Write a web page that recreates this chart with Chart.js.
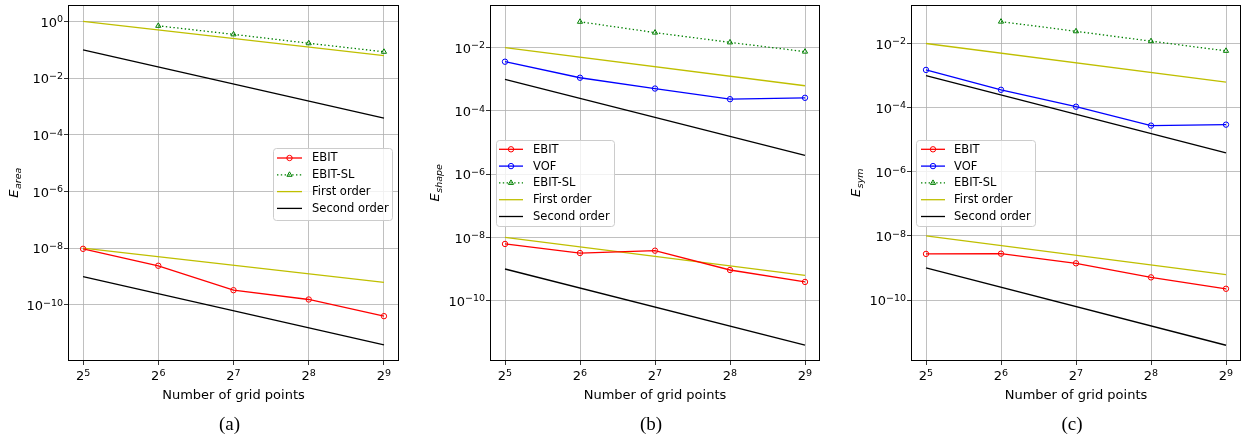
<!DOCTYPE html>
<html><head><meta charset="utf-8">
<script src="https://cdn.jsdelivr.net/npm/chart.js@4.4.1/dist/chart.umd.min.js"></script>
<style>
html,body{margin:0;padding:0;background:#fff;}
body{width:1257px;height:440px;overflow:hidden;position:relative;}
canvas{position:absolute;top:0;}
</style>
</head><body>
<canvas id="ca" width="420" height="440" style="left:0px;width:420px;height:440px"></canvas>
<canvas id="cb" width="418" height="440" style="left:420px;width:418px;height:440px"></canvas>
<canvas id="cc" width="419" height="440" style="left:838px;width:419px;height:440px"></canvas>
<script>
// ---------------- data ----------------
const gridPoints = [32, 64, 128, 256, 512];
const slGridPoints = [64, 128, 256, 512];
const refGridPoints = [32, 512];
const xTickBase = '2';
const xTickExponents = ['5', '6', '7', '8', '9'];

const yTickBase = '10';
const yTickValuesA = [1, 1e-2, 1e-4, 1e-6, 1e-8, 1e-10];
const yTickExponentsA = ['0', '−2', '−4', '−6', '−8', '−10'];
const yTickValuesBC = [1e-2, 1e-4, 1e-6, 1e-8, 1e-10];
const yTickExponentsBC = ['−2', '−4', '−6', '−8', '−10'];

// (a) E_area
const areaEBIT = [9.5e-9, 2.4e-9, 3.3e-10, 1.55e-10, 4.0e-11];
const areaEBITSL = [0.70, 0.35, 0.17, 0.085];
// (b) E_shape
const shapeEBIT = [6.2e-9, 3.2e-9, 3.8e-9, 9.3e-10, 3.9e-10];
const shapeVOF = [3.6e-3, 1.12e-3, 5.1e-4, 2.35e-4, 2.6e-4];
const shapeEBITSL = [0.066, 0.030, 0.0147, 0.0075];
// (c) E_sym
const symEBIT = [2.75e-9, 2.8e-9, 1.4e-9, 5.1e-10, 2.25e-10];
const symVOF = [1.5e-3, 3.6e-4, 1.07e-4, 2.75e-5, 2.95e-5];
const symEBITSL = [0.048, 0.024, 0.0118, 0.0059];

// reference slope lines (end points)
const firstOrderUpperA = [1, 0.0625];
const secondOrderUpperA = [0.1, 3.9e-4];
const firstOrderUpperBC = [1e-2, 6.25e-4];
const secondOrderUpperBC = [1e-3, 3.9e-6];
const firstOrderLower = [1e-8, 6.25e-10];
const secondOrderLower = [1e-9, 3.9e-12];

// ---------------- helpers ----------------
const pts = (xs, ys) => xs.map((x, i) => ({x: x, y: ys[i]}));
const FONT = '"DejaVu Sans", sans-serif';

function ebitDs(vals) {
  return {label: 'EBIT', data: pts(gridPoints, vals), borderColor: '#ff0000', borderWidth: 1.3,
    pointStyle: 'circle', pointRadius: 2.7, pointBorderWidth: 1, pointBorderColor: '#ff0000',
    pointBackgroundColor: 'rgba(0,0,0,0)', tension: 0};
}
function vofDs(vals) {
  return {label: 'VOF', data: pts(gridPoints, vals), borderColor: '#0000ff', borderWidth: 1.3,
    pointStyle: 'circle', pointRadius: 2.7, pointBorderWidth: 1, pointBorderColor: '#0000ff',
    pointBackgroundColor: 'rgba(0,0,0,0)', tension: 0};
}
function slDs(vals) {
  return {label: 'EBIT-SL', data: pts(slGridPoints, vals), borderColor: '#008000', borderWidth: 1.3,
    borderDash: [1.4, 2.4], pointStyle: 'triangle', pointRadius: 3, pointBorderWidth: 1,
    pointBorderColor: '#008000', pointBackgroundColor: 'rgba(0,0,0,0)', tension: 0};
}
function refDs(label, vals, color, noLegend) {
  return {label: label, noLegend: !!noLegend, data: pts(refGridPoints, vals), borderColor: color,
    borderWidth: 1.3, pointRadius: 0, tension: 0};
}

const framePlugin = {
  id: 'frame',
  afterDatasetsDraw(chart) {
    const {ctx, chartArea: a} = chart;
    ctx.save();
    ctx.strokeStyle = '#000';
    ctx.lineWidth = 1;
    const l = Math.round(a.left) + 0.5, r = Math.round(a.right) - 0.5;
    const t = Math.round(a.top) + 0.5, b = Math.round(a.bottom) - 0.5;
    ctx.strokeRect(l, t, r - l, b - t);
    ctx.restore();
  }
};

// tick labels with real superscripts, placed through the library's scales
const mathTicksPlugin = {
  id: 'mathTicks',
  afterDraw(chart, args, o) {
    const {ctx, chartArea: a} = chart;
    const big = '13px ' + FONT, small = '9.5px ' + FONT;
    ctx.save();
    ctx.fillStyle = '#000';
    ctx.textAlign = 'left';
    ctx.textBaseline = 'alphabetic';
    const xs = chart.scales.x;
    xs.ticks.forEach(t => {
      const k = gridPoints.indexOf(Math.round(t.value));
      if (k < 0) return;
      const px = xs.getPixelForValue(t.value);
      ctx.font = big; const w1 = ctx.measureText(xTickBase).width;
      ctx.font = small; const w2 = ctx.measureText(xTickExponents[k]).width;
      const s = px - (w1 + w2) / 2;
      const by = a.bottom + 19;
      ctx.font = big; ctx.fillText(xTickBase, s, by);
      ctx.font = small; ctx.fillText(xTickExponents[k], s + w1, by - 4.5);
    });
    const ys = chart.scales.y;
    ys.ticks.forEach(t => {
      const k = o.yVals.findIndex(v => Math.abs(Math.log10(v) - Math.log10(t.value)) < 1e-6);
      if (k < 0) return;
      const py = ys.getPixelForValue(t.value);
      ctx.font = big; const w1 = ctx.measureText(yTickBase).width;
      ctx.font = small; const w2 = ctx.measureText(o.yExps[k]).width;
      const right = a.left - 5;
      const s = right - w1 - w2;
      const by = py + 5.3;
      ctx.font = big; ctx.fillText(yTickBase, s, by);
      ctx.font = small; ctx.fillText(o.yExps[k], s + w1, by - 4.5);
    });
    ctx.restore();
  }
};

const yLabelPlugin = {
  id: 'ylabel',
  afterDraw(chart, args, o) {
    const {ctx, chartArea: a} = chart;
    ctx.save();
    const big = 'italic 13px ' + FONT, small = 'italic 9.5px ' + FONT;
    ctx.font = big; const w1 = ctx.measureText(o.main).width;
    ctx.font = small; const w2 = ctx.measureText(o.sub).width;
    ctx.translate(o.x, (a.top + a.bottom) / 2);
    ctx.rotate(-Math.PI / 2);
    ctx.fillStyle = '#000';
    ctx.textAlign = 'left';
    ctx.textBaseline = 'alphabetic';
    const start = -(w1 + w2) / 2;
    ctx.font = big; ctx.fillText(o.main, start, 0);
    ctx.font = small; ctx.fillText(o.sub, start + w1 + 0.5, 3);
    ctx.restore();
  }
};

const captionPlugin = {
  id: 'caption',
  afterDraw(chart, args, o) {
    const {ctx, chartArea: a} = chart;
    ctx.save();
    ctx.fillStyle = '#000';
    ctx.font = '19px "Liberation Serif", "DejaVu Serif", serif';
    ctx.textAlign = 'center';
    ctx.textBaseline = 'middle';
    ctx.fillText(o.text, (a.left + a.right) / 2 + o.dx, o.y);
    ctx.restore();
  }
};

const legendPlugin = {
  id: 'legendBox',
  afterDraw(chart, args, o) {
    const ctx = chart.ctx;
    const items = chart.data.datasets.filter(d => d.label && !d.noLegend);
    ctx.save();
    ctx.beginPath();
    if (ctx.roundRect) ctx.roundRect(o.left + 0.5, o.top + 0.5, o.width, o.height, 3);
    else ctx.rect(o.left + 0.5, o.top + 0.5, o.width, o.height);
    ctx.fillStyle = 'rgba(255,255,255,0.8)';
    ctx.fill();
    ctx.strokeStyle = '#cccccc';
    ctx.lineWidth = 1;
    ctx.stroke();
    items.forEach((d, i) => {
      const y = o.firstRow + i * o.rowGap;
      ctx.strokeStyle = d.borderColor;
      ctx.lineWidth = d.borderWidth;
      ctx.setLineDash(d.borderDash || []);
      ctx.beginPath();
      ctx.moveTo(o.handleLeft, y);
      ctx.lineTo(o.handleLeft + o.handleLen, y);
      ctx.stroke();
      ctx.setLineDash([]);
      if (d.pointRadius > 0) {
        ctx.strokeStyle = d.pointBorderColor;
        ctx.fillStyle = 'rgba(0,0,0,0)';
        ctx.lineWidth = d.pointBorderWidth;
        Chart.helpers.drawPoint(ctx, {pointStyle: d.pointStyle, rotation: 0, radius: d.pointRadius,
          borderWidth: d.pointBorderWidth}, o.handleLeft + o.handleLen / 2, y);
      }
      ctx.fillStyle = '#000';
      ctx.font = '11.5px ' + FONT;
      ctx.textAlign = 'left';
      ctx.textBaseline = 'middle';
      ctx.fillText(d.label, o.textLeft, y + 0.5);
    });
    ctx.restore();
  }
};

function makePanel(id, datasets, cfg) {
  return new Chart(document.getElementById(id), {
    type: 'line',
    data: {datasets: datasets},
    plugins: [framePlugin, mathTicksPlugin, yLabelPlugin, captionPlugin, legendPlugin],
    options: {
      responsive: false,
      animation: false,
      events: [],
      layout: {padding: {left: 0, right: cfg.padRight, top: 5, bottom: 0}},
      plugins: {
        legend: {display: false},
        tooltip: {enabled: false},
        mathTicks: {yVals: cfg.yVals, yExps: cfg.yExps},
        ylabel: cfg.ylabel,
        caption: cfg.caption,
        legendBox: cfg.legend
      },
      scales: {
        x: {
          type: 'logarithmic',
          min: Math.pow(2, 4.8),
          max: Math.pow(2, 9.2),
          afterBuildTicks: s => { s.ticks = gridPoints.map(v => ({value: v})); },
          afterFit: s => { s.height = 79; },
          grid: {color: '#b0b0b0', lineWidth: 0.8, tickColor: '#000', tickLength: 4, tickWidth: 0.8},
          border: {display: false},
          ticks: {display: false, autoSkip: false, maxRotation: 0},
          title: {display: true, text: 'Number of grid points', color: '#000',
            font: {family: FONT, size: 13}, padding: {top: 0, bottom: 36.5}}
        },
        y: {
          type: 'logarithmic',
          min: Math.pow(10, cfg.yMinExp),
          max: Math.pow(10, cfg.yMaxExp),
          afterBuildTicks: s => { s.ticks = cfg.yVals.map(v => ({value: v})); },
          afterFit: s => { s.width = cfg.yWidth; },
          grid: {color: '#b0b0b0', lineWidth: 0.8, tickColor: '#000', tickLength: 4, tickWidth: 0.8},
          border: {display: false},
          ticks: {display: false, autoSkip: false}
        }
      }
    }
  });
}

makePanel('ca', [
  ebitDs(areaEBIT),
  slDs(areaEBITSL),
  refDs('First order', firstOrderUpperA, '#bfbf00'),
  refDs('First order', firstOrderLower, '#bfbf00', true),
  refDs('Second order', secondOrderUpperA, '#000000'),
  refDs('Second order', secondOrderLower, '#000000', true)
], {
  padRight: 21, yWidth: 68, yMinExp: -11.98, yMaxExp: 0.58,
  yVals: yTickValuesA, yExps: yTickExponentsA,
  ylabel: {main: 'E', sub: 'area', x: 18},
  caption: {text: '(a)', y: 425, dx: -4},
  legend: {left: 273, top: 148, width: 119, height: 72, firstRow: 158, rowGap: 16.8,
    handleLeft: 277, handleLen: 25, textLeft: 312}
});

makePanel('cb', [
  ebitDs(shapeEBIT),
  vofDs(shapeVOF),
  slDs(shapeEBITSL),
  refDs('First order', firstOrderUpperBC, '#bfbf00'),
  refDs('First order', firstOrderLower, '#bfbf00', true),
  refDs('Second order', secondOrderUpperBC, '#000000'),
  refDs('Second order', secondOrderLower, '#000000', true)
], {
  padRight: 18, yWidth: 70, yMinExp: -11.91, yMaxExp: -0.65,
  yVals: yTickValuesBC, yExps: yTickExponentsBC,
  ylabel: {main: 'E', sub: 'shape', x: 18.5},
  caption: {text: '(b)', y: 425, dx: -4},
  legend: {left: 76, top: 140, width: 118, height: 86, firstRow: 149.3, rowGap: 16.8,
    handleLeft: 79, handleLen: 24, textLeft: 113}
});

makePanel('cc', [
  ebitDs(symEBIT),
  vofDs(symVOF),
  slDs(symEBITSL),
  refDs('First order', firstOrderUpperBC, '#bfbf00'),
  refDs('First order', firstOrderLower, '#bfbf00', true),
  refDs('Second order', secondOrderUpperBC, '#000000'),
  refDs('Second order', secondOrderLower, '#000000', true)
], {
  padRight: 16, yWidth: 73, yMinExp: -11.9, yMaxExp: -0.8,
  yVals: yTickValuesBC, yExps: yTickExponentsBC,
  ylabel: {main: 'E', sub: 'sym', x: 22},
  caption: {text: '(c)', y: 425, dx: -4},
  legend: {left: 78, top: 140, width: 119, height: 86, firstRow: 149.3, rowGap: 16.8,
    handleLeft: 83, handleLen: 24, textLeft: 116}
});
</script>
</body></html>
